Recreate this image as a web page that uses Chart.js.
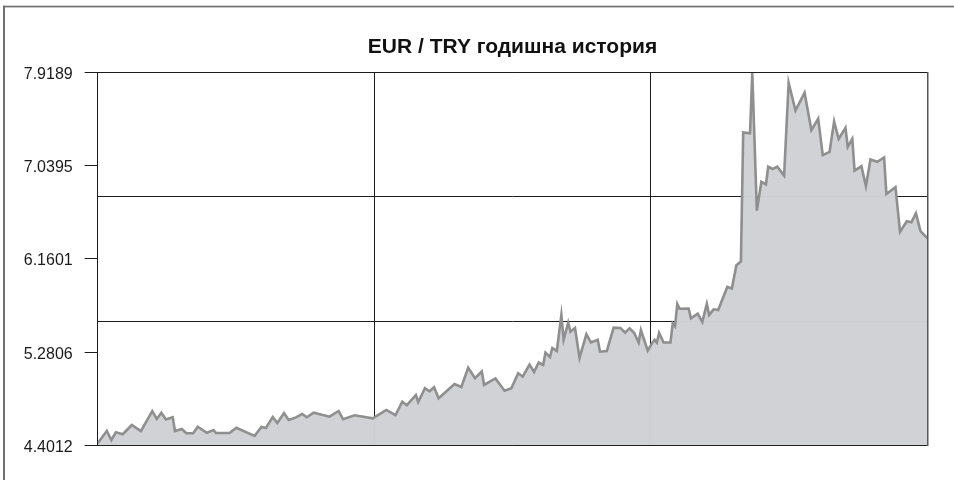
<!DOCTYPE html>
<html>
<head>
<meta charset="utf-8">
<script src="https://cdn.jsdelivr.net/npm/chart.js@4"></script>
<style>
  html, body { margin: 0; padding: 0; background: #fff; }
</style>
</head>
<body>
<canvas id="eur_try_chart" width="954" height="480"></canvas>
<script>
//----------------------------------------
//--- Data: EUR / TRY, one year
//----------------------------------------

var chart_title = 'EUR / TRY годишна история';

// day of the year (0 .. 365)
var days = [0, 4, 6, 8, 11, 15, 19, 24, 26, 28, 30, 33, 34, 37, 39, 42, 44, 48, 51, 52,
    58, 61, 69, 72, 74, 77, 79, 82, 84, 87, 90, 92, 95, 102, 106, 108, 113, 121, 127, 131,
    134, 136, 140, 141, 144, 146, 148, 150, 157, 160, 163, 166, 169, 170, 175, 179, 182, 185, 187, 190,
    192, 194, 196, 197, 199, 200, 202, 204, 205, 207, 208, 210, 212, 215, 217, 220, 221, 224, 227, 230,
    232, 234, 236, 238, 239, 242, 244, 245, 246, 247, 249, 252, 253, 254, 255, 256, 260, 261, 264, 266,
    268, 269, 271, 273, 277, 279, 281, 283, 284, 287, 288, 290, 292, 294, 295, 297, 299, 302, 304, 307,
    311, 314, 317, 319, 322, 324, 326, 329, 330, 332, 333, 336, 338, 340, 343, 346, 347, 351, 353, 356,
    358, 360, 362, 365];

var rates = [4.420, 4.536, 4.451, 4.524, 4.506, 4.593, 4.536, 4.725, 4.650, 4.709, 4.645, 4.666, 4.536, 4.555, 4.515, 4.515, 4.577, 4.520, 4.546, 4.517,
    4.517, 4.567, 4.489, 4.574, 4.565, 4.668, 4.612, 4.706, 4.640, 4.662, 4.697, 4.666, 4.709, 4.671, 4.725, 4.647, 4.685, 4.656, 4.735, 4.685,
    4.813, 4.780, 4.876, 4.810, 4.940, 4.911, 4.950, 4.845, 4.980, 4.952, 5.134, 5.034, 5.098, 4.971, 5.032, 4.916, 4.940, 5.081, 5.049, 5.164,
    5.093, 5.183, 5.160, 5.276, 5.235, 5.320, 5.292, 5.632, 5.398, 5.559, 5.474, 5.509, 5.226, 5.450, 5.372, 5.398, 5.285, 5.292, 5.512, 5.509,
    5.464, 5.506, 5.464, 5.372, 5.490, 5.295, 5.369, 5.396, 5.370, 5.462, 5.372, 5.372, 5.553, 5.525, 5.734, 5.691, 5.693, 5.600, 5.644, 5.566,
    5.736, 5.632, 5.685, 5.679, 5.896, 5.882, 6.102, 6.137, 7.355, 7.346, 7.9189, 6.617, 6.888, 6.864, 7.031, 7.010, 7.031, 6.947, 7.824, 7.561,
    7.730, 7.377, 7.484, 7.141, 7.171, 7.459, 7.294, 7.399, 7.218, 7.294, 6.994, 7.037, 6.848, 7.100, 7.078, 7.119, 6.774, 6.838, 6.417, 6.517,
    6.507, 6.593, 6.423, 6.357];

// value axis labels
var y_tick_values = [7.9189, 7.0395, 6.1601, 5.2806, 4.4012];

//----------------------------------------
//--- Helpers
//----------------------------------------

var y_min = Math.min.apply(null, y_tick_values);
var y_max = Math.max.apply(null, y_tick_values);
var x_min = days[0];
var x_max = days[days.length - 1];

function thirds(lo, hi) {
    return [0, 1, 2, 3].map(function (i) { return {value: lo + (hi - lo) * i / 3}; });
}

var line_colour = '#1c1c1c';
var font_family = "'Liberation Sans', Arial, sans-serif";

// thin gray frame on the top and left edges of the picture
var outer_frame = {
    id: 'outer_frame',
    beforeDraw: function (chart) {
        var ctx = chart.ctx;
        ctx.save();
        ctx.fillStyle = '#707070';
        ctx.fillRect(3, 5.7, chart.width - 3, 1.7);
        ctx.fillRect(3, 5.7, 2, chart.height);
        ctx.restore();
    }
};

// title centred over the plot area rather than the whole canvas
var plot_title = {
    id: 'plot_title',
    afterDraw: function (chart) {
        var ctx = chart.ctx, area = chart.chartArea;
        ctx.save();
        ctx.font = 'bold 21px ' + font_family;
        ctx.fillStyle = '#111';
        ctx.textAlign = 'center';
        ctx.textBaseline = 'middle';
        ctx.fillText(chart_title, (area.left + area.right) / 2, 47);
        ctx.restore();
    }
};

//----------------------------------------
//--- Area chart
//----------------------------------------

var eur_try_chart = new Chart(document.getElementById('eur_try_chart').getContext('2d'), {
    type: 'line',
    data: {
        datasets: [{
            label: chart_title,
            data: days.map(function (d, i) { return {x: d, y: rates[i]}; }),
            borderColor: '#8f8f8f', borderWidth: 2.6, borderJoinStyle: 'miter',
            backgroundColor: 'rgba(208, 209, 212, 0.985)',
            fill: 'start', pointRadius: 0, tension: 0
        }]
    },
    options: {
        responsive: false, animation: false,
        layout: {padding: {left: 0, right: 0, top: 72.7, bottom: 0}},
        plugins: {
            legend: {display: false},
            tooltip: {enabled: false},
            title: {display: false}
        },
        scales: {
            x: {
                type: 'linear', position: 'bottom', min: x_min, max: x_max,
                afterBuildTicks: function (s) { s.ticks = thirds(x_min, x_max); },
                afterFit: function (s) { s.height = 34.7; },
                ticks: {display: false},
                grid: {color: line_colour, drawTicks: false},
                border: {color: line_colour}
            },
            x2: {
                type: 'linear', position: 'top',
                afterFit: function (s) { s.height = 0; },
                ticks: {display: false},
                grid: {drawOnChartArea: false, drawTicks: false},
                border: {color: line_colour}
            },
            y: {
                position: 'left', min: y_min, max: y_max,
                afterBuildTicks: function (s) { s.ticks = y_tick_values.map(function (v) { return {value: v}; }); },
                afterFit: function (s) { s.width = 97.7; },
                ticks: {
                    font: {family: font_family, size: 16}, color: '#1a1a1a', padding: 12, labelOffset: 2,
                    callback: function (v) { return v.toFixed(4); }
                },
                grid: {drawOnChartArea: false, tickLength: 13, color: line_colour},
                border: {color: line_colour}
            },
            y2: {
                position: 'right', min: y_min, max: y_max,
                afterBuildTicks: function (s) { s.ticks = thirds(y_min, y_max); },
                afterFit: function (s) { s.width = 26.7; },
                ticks: {display: false},
                grid: {color: line_colour, drawTicks: false},
                border: {color: '#555', width: 1.5}
            }
        }
    },
    plugins: [outer_frame, plot_title]
});
</script>
</body>
</html>
